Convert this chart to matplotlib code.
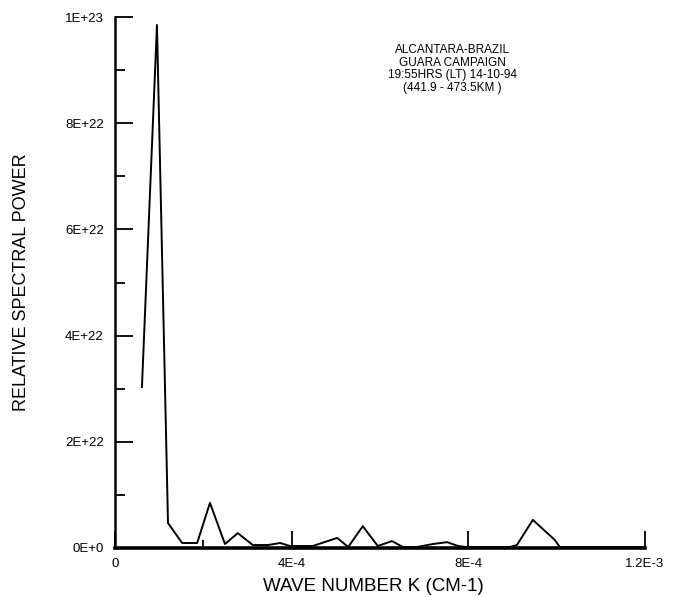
import matplotlib
matplotlib.use("Agg")
import matplotlib.pyplot as plt
from matplotlib.ticker import FixedLocator

# Data
wave_number = [6.1e-5, 9.5e-5, 1.20e-4, 1.52e-4, 1.86e-4, 2.15e-4, 2.49e-4, 2.78e-4,
               3.12e-4, 3.46e-4, 3.74e-4, 3.96e-4, 4.48e-4, 5.03e-4, 5.28e-4, 5.61e-4,
               5.95e-4, 6.27e-4, 6.52e-4, 6.84e-4, 7.20e-4, 7.52e-4, 7.77e-4, 7.95e-4,
               8.94e-4, 9.10e-4, 9.46e-4, 9.96e-4, 1.007e-3, 1.20e-3]
spectral_power = [3.03e22, 9.85e22, 4.7e21, 9.4e20, 9.4e20, 8.5e21, 7.5e20, 2.8e21,
                  5.6e20, 5.6e20, 9.4e20, 3.8e20, 3.8e20, 1.9e21, 1.9e20, 4.1e21,
                  3.8e20, 1.3e21, 1.9e20, 1.9e20, 7.5e20, 1.1e21, 3.8e20, 1.9e20,
                  1.9e20, 5.6e20, 5.3e21, 1.5e21, 1.9e20, 1.9e20]

y_ticks = [0, 2e22, 4e22, 6e22, 8e22, 1e23]
y_tick_labels = ["0E+0", "2E+22", "4E+22", "6E+22", "8E+22", "1E+23"]
y_minor = [1e22, 3e22, 5e22, 7e22, 9e22]
x_ticks = [0, 4e-4, 8e-4, 1.2e-3]
x_tick_labels = ["0", "4E-4", "8E-4", "1.2E-3"]
x_minor = [2e-4]
annotation = "ALCANTARA-BRAZIL\nGUARA CAMPAIGN\n19:55HRS (LT) 14-10-94\n(441.9 - 473.5KM )"

plt.rcParams['font.family'] = ['Liberation Sans', 'DejaVu Sans']

fig = plt.figure(figsize=(6.83, 5.97), dpi=100)
ax = fig.add_axes([115/683, 49/597, 530/683, 531/597])

ax.plot(wave_number, spectral_power, color='black', lw=1.4)

ax.set_xlim(0, 1.2e-3)
ax.set_ylim(0, 1e23)

for s in ['top', 'right']:
    ax.spines[s].set_visible(False)
ax.spines['left'].set_linewidth(1.8)
ax.spines['bottom'].set_linewidth(2.6)

ax.yaxis.set_major_locator(FixedLocator(y_ticks))
ax.set_yticklabels(y_tick_labels)
ax.yaxis.set_minor_locator(FixedLocator(y_minor))
ax.xaxis.set_major_locator(FixedLocator(x_ticks))
ax.set_xticklabels(x_tick_labels)
ax.xaxis.set_minor_locator(FixedLocator(x_minor))

ax.tick_params(axis='y', which='major', direction='in', length=13, width=1.3,
               labelsize=9.5, pad=8)
ax.tick_params(axis='y', which='minor', direction='in', length=7, width=1.3)
ax.tick_params(axis='x', which='major', direction='in', length=12, width=1.3,
               labelsize=9.5, pad=7)
ax.tick_params(axis='x', which='minor', direction='in', length=6, width=1.3)

ax.set_ylabel("RELATIVE SPECTRAL POWER", fontsize=13)
ax.yaxis.set_label_coords(-0.16, 0.5)
ax.set_xlabel("WAVE NUMBER K (CM-1)", fontsize=13.5)
ax.xaxis.set_label_coords(0.487, -0.056)

ax.text((452-115)/530, (548-69)/531, annotation, transform=ax.transAxes,
        ha='center', va='center', fontsize=8.5, linespacing=1.05)

fig.savefig("out.png", dpi=100)
